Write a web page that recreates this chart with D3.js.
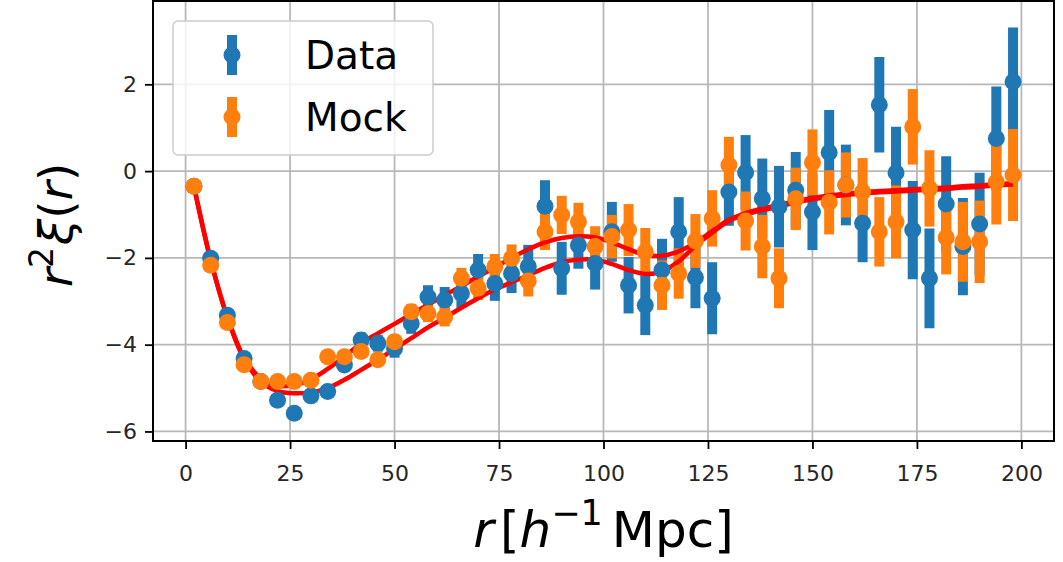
<!DOCTYPE html>
<html>
<head>
<meta charset="utf-8">
<script src="https://cdn.jsdelivr.net/npm/d3@7"></script>
<style>
  html, body { margin: 0; padding: 0; background: #fff; }
  svg { display: block; font-family: 'DejaVu Sans', sans-serif; }
</style>
</head>
<body>
<svg id="chart" width="1063" height="562"></svg>
<script>
// bin centres, h^-1 Mpc
const rBins = [2, 6, 10, 14, 18, 22, 26, 30, 34, 38, 42, 46, 50, 54, 58, 62, 66, 70, 74, 78,
  82, 86, 90, 94, 98, 102, 106, 110, 114, 118, 122, 126, 130, 134, 138, 142, 146, 150, 154, 158,
  162, 166, 170, 174, 178, 182, 186, 190, 194, 198];

const dataVals = [-0.35, -2.01, -3.32, -4.32, -4.85, -5.28, -5.58, -5.18, -5.08, -4.47,
  -3.89, -3.97, -4.09, -3.51, -2.90, -2.97, -2.82, -2.28, -2.59, -2.36,
  -2.20, -0.81, -2.24, -1.71, -2.13, -1.40, -2.63, -3.09, -2.28, -1.40,
  -2.45, -2.93, -0.48, -0.03, -0.63, -0.82, -0.44, -0.94, 0.43, -0.32,
  -1.20, 1.53, -0.04, -1.36, -2.47, -0.76, -1.74, -1.22, 0.75, 2.06];
const dataErr = [0.05, 0.06, 0.07, 0.08, 0.10, 0.11, 0.12, 0.13, 0.14, 0.15,
  0.17, 0.19, 0.21, 0.24, 0.27, 0.30, 0.33, 0.37, 0.40, 0.45,
  0.50, 0.60, 0.61, 0.54, 0.60, 0.69, 0.65, 0.69, 0.72, 0.80,
  0.71, 0.83, 0.78, 0.86, 0.92, 0.94, 0.88, 0.88, 0.98, 0.93,
  0.90, 1.10, 1.06, 1.13, 1.15, 1.10, 1.12, 1.18, 1.20, 1.25];

const mockVals = [-0.35, -2.17, -3.49, -4.46, -4.85, -4.85, -4.85, -4.82, -4.28, -4.28,
  -4.16, -4.35, -3.93, -3.24, -3.28, -3.36, -2.47, -2.70, -2.20, -2.01,
  -2.53, -1.40, -1.01, -1.17, -1.74, -1.51, -1.36, -1.86, -2.63, -2.36,
  -1.61, -1.09, 0.14, -1.15, -1.74, -2.47, -0.64, 0.20, -0.72, -0.32,
  -0.48, -1.40, -1.17, 1.02, -0.40, -1.53, -1.63, -1.63, -0.25, -0.09];
const mockErr = [0.04, 0.05, 0.05, 0.06, 0.07, 0.08, 0.09, 0.10, 0.10, 0.11,
  0.13, 0.14, 0.16, 0.18, 0.20, 0.22, 0.24, 0.27, 0.29, 0.32,
  0.36, 0.42, 0.44, 0.44, 0.47, 0.50, 0.60, 0.55, 0.57, 0.58,
  0.62, 0.65, 0.65, 0.68, 0.73, 0.69, 0.72, 0.76, 0.74, 0.75,
  0.78, 0.80, 0.84, 0.87, 0.88, 0.85, 0.92, 0.95, 0.98, 1.06];

// best-fit model curves evaluated at the bins
const modelMock = [-0.35, -2.05, -3.36, -4.30, -4.78, -4.95, -4.93, -4.80, -4.56, -4.28,
  -3.97, -3.74, -3.52, -3.30, -3.08, -2.86, -2.65, -2.43, -2.22, -2.00,
  -1.80, -1.64, -1.54, -1.50, -1.53, -1.64, -1.80, -1.93, -1.95, -1.85,
  -1.65, -1.38, -1.12, -0.97, -0.86, -0.78, -0.69, -0.62, -0.56, -0.52,
  -0.49, -0.46, -0.44, -0.42, -0.40, -0.38, -0.35, -0.33, -0.30, -0.28];
const modelData = [-0.35, -2.05, -3.38, -4.33, -4.85, -5.07, -5.12, -5.10, -5.00, -4.81,
  -4.58, -4.35, -4.10, -3.85, -3.60, -3.38, -3.15, -2.93, -2.73, -2.56,
  -2.40, -2.23, -2.10, -2.04, -2.04, -2.14, -2.28, -2.37, -2.31, -2.08,
  -1.72, -1.42, -1.15, -1.00, -0.90, -0.82, -0.72, -0.65, -0.59, -0.55,
  -0.52, -0.49, -0.47, -0.45, -0.43, -0.41, -0.38, -0.36, -0.33, -0.31];

const xTicks = [0, 25, 50, 75, 100, 125, 150, 175, 200];
const yTicks = [-6, -4, -2, 0, 2];

const blue = '#1f77b4';
const orange = '#ff7f0e';

const plot = { left: 153, right: 1054, top: 1, bottom: 441 };

const svg = d3.select('#chart');

const x = d3.scaleLinear().domain([-7.8, 207.8]).range([plot.left, plot.right]);
const y = d3.scaleLinear().domain([-6.22, 3.92]).range([plot.bottom, plot.top]);

const series = [
  { name: 'Data', color: blue, pts: rBins.map((r, i) => ({ r, v: dataVals[i], e: dataErr[i] })) },
  { name: 'Mock', color: orange, pts: rBins.map((r, i) => ({ r, v: mockVals[i], e: mockErr[i] })) }
];

// grid
const grid = svg.append('g').attr('stroke', '#b8b8b8').attr('stroke-width', 1.8);
grid.selectAll('.gx').data(xTicks).enter().append('line')
  .attr('x1', d => x(d)).attr('x2', d => x(d))
  .attr('y1', plot.top).attr('y2', plot.bottom);
grid.selectAll('.gy').data(yTicks).enter().append('line')
  .attr('y1', d => y(d)).attr('y2', d => y(d))
  .attr('x1', plot.left).attr('x2', plot.right);

// error bars
series.forEach(s => {
  svg.append('g').selectAll('line')
    .data(s.pts)
    .enter()
    .append('line')
    .attr('x1', d => x(d.r)).attr('x2', d => x(d.r))
    .attr('y1', d => y(d.v - d.e)).attr('y2', d => y(d.v + d.e))
    .attr('stroke', s.color)
    .attr('stroke-width', 10);
});

// model curves
const line = d3.line()
  .x((d, i) => x(rBins[i]))
  .y(d => y(d))
  .curve(d3.curveCatmullRom.alpha(0.5));

[modelData, modelMock].forEach(m => {
  svg.append('path')
    .attr('d', line(m))
    .attr('fill', 'none')
    .attr('stroke', '#ff0000')
    .attr('stroke-width', 4.5);
});

// points
series.forEach(s => {
  svg.append('g').selectAll('circle')
    .data(s.pts)
    .enter()
    .append('circle')
    .attr('cx', d => x(d.r))
    .attr('cy', d => y(d.v))
    .attr('r', 8.5)
    .attr('fill', s.color);
});

// spines
svg.append('rect')
  .attr('x', plot.left).attr('y', plot.top)
  .attr('width', plot.right - plot.left).attr('height', plot.bottom - plot.top)
  .attr('fill', 'none')
  .attr('stroke', '#000')
  .attr('stroke-width', 2);

// axes
const fmt = d => d < 0 ? '\u2212' + Math.abs(d) : String(d);

svg.append('g')
  .attr('transform', `translate(0,${plot.bottom})`)
  .call(d3.axisBottom(x).tickValues(xTicks).tickFormat(fmt).tickSize(8).tickSizeOuter(0).tickPadding(16))
  .call(g => g.select('.domain').remove())
  .call(g => g.selectAll('line').attr('stroke', '#000').attr('stroke-width', 1.8))
  .call(g => g.selectAll('text').attr('fill', '#262626').style('font-size', '22px').style('font-family', 'DejaVu Sans'));

svg.append('g')
  .attr('transform', `translate(${plot.left},0)`)
  .call(d3.axisLeft(y).tickValues(yTicks).tickFormat(fmt).tickSize(8).tickSizeOuter(0).tickPadding(8))
  .call(g => g.select('.domain').remove())
  .call(g => g.selectAll('line').attr('stroke', '#000').attr('stroke-width', 1.8))
  .call(g => g.selectAll('text').attr('fill', '#262626').style('font-size', '22px').style('font-family', 'DejaVu Sans'));

// y label: r^2 xi(r)
const yl = svg.append('text')
  .attr('transform', `translate(72,${(plot.top + plot.bottom) / 2 + 4}) rotate(-90)`)
  .attr('text-anchor', 'middle')
  .style('font-size', '47px')
  .attr('fill', '#000');
yl.append('tspan').style('font-style', 'italic').text('r');
yl.append('tspan').style('font-size', '33px').attr('dy', -19).text('2');
yl.append('tspan').style('font-style', 'italic').attr('dy', 19).attr('dx', 2).text('\u03be');
yl.append('tspan').text('(');
yl.append('tspan').style('font-style', 'italic').text('r');
yl.append('tspan').text(')');

// x label: r [h^-1 Mpc]
const xl = svg.append('text')
  .attr('x', (plot.left + plot.right) / 2)
  .attr('y', 547)
  .attr('text-anchor', 'middle')
  .style('font-size', '50px')
  .attr('fill', '#000');
xl.append('tspan').style('font-style', 'italic').text('r');
xl.append('tspan').attr('dx', 6).text('[');
xl.append('tspan').style('font-style', 'italic').text('h');
xl.append('tspan').style('font-size', '35px').attr('dy', -22).text('\u22121');
xl.append('tspan').attr('dy', 22).attr('dx', 9).text('Mpc');
xl.append('tspan').text(']');

// legend
const legend = svg.append('g');
legend.append('rect')
  .attr('x', 173).attr('y', 21)
  .attr('width', 260).attr('height', 134)
  .attr('rx', 5)
  .attr('fill', '#fff').attr('fill-opacity', 0.8)
  .attr('stroke', '#cccccc').attr('stroke-width', 1.5);

const items = legend.selectAll('.item')
  .data(series)
  .enter()
  .append('g')
  .attr('transform', (d, i) => `translate(232,${55 + i * 62})`);
items.append('line')
  .attr('y1', -20).attr('y2', 20)
  .attr('stroke', d => d.color)
  .attr('stroke-width', 10);
items.append('circle')
  .attr('r', 8.5)
  .attr('fill', d => d.color);
items.append('text')
  .attr('x', 73)
  .attr('y', 14)
  .style('font-size', '39px')
  .attr('fill', '#000')
  .text(d => d.name);
</script>
</body>
</html>
